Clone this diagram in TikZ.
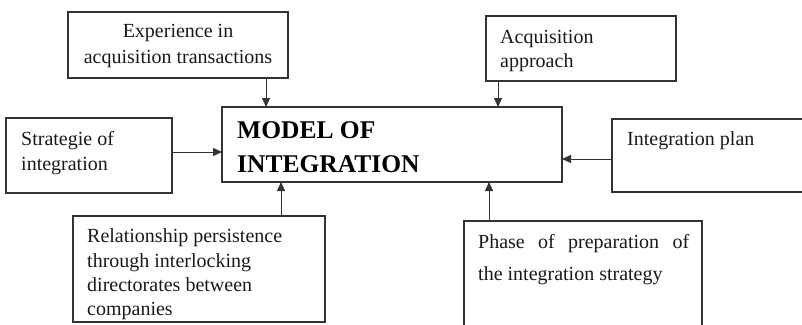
\documentclass[tikz,border=0pt]{standalone}
\usepackage{fontspec}
\setmainfont{Liberation Serif}
\usetikzlibrary{arrows.meta}
\begin{document}
\begin{tikzpicture}[x=1pt,y=-1pt,
  box/.style={draw=black!80,line width=1.2pt,fill=none},
  txt/.style={anchor=base west,inner sep=0pt,font=\fontsize{20}{26}\selectfont,text=black!90},
  ttl/.style={anchor=base west,inner sep=0pt,font=\fontsize{25.5}{30}\selectfont\bfseries,text=black},
  conn/.style={draw=black!80,line width=1pt,-{Triangle[length=9pt,width=8pt]}}]
\useasboundingbox (0,0) rectangle (802,324);
% boxes
\draw[box] (68,12) rectangle (288,78);
\coordinate (expS) at (266,78);
\draw[box] (486,16) rectangle (676,81);
\coordinate (acqS) at (498,81);
\draw[box] (222,107) rectangle (562,182);
\coordinate (mainT1) at (266,107);
\coordinate (mainT2) at (498,107);
\coordinate (mainL) at (222,152);
\coordinate (mainR) at (562,159);
\coordinate (mainB1) at (281,182);
\coordinate (mainB2) at (489,182);
\draw[box] (6,118) rectangle (172,193);
\coordinate (strR) at (172,152);
\draw[box] (805,119) -- (612,119) -- (612,192) -- (805,192);
\coordinate (intL) at (612,159);
\draw[box] (73,216) rectangle (325,322);
\coordinate (relT) at (281,216);
\draw[box] (464,326) -- (464,221) -- (702,221) -- (702,326);
\coordinate (phT) at (489,221);
% texts
\node[txt,anchor=base] (t1) at (178,37) {Experience in};
\node[txt,anchor=base] (t2) at (178,63) {acquisition transactions};
\node[txt] (t3) at (500,43) {Acquisition};
\node[txt] (t4) at (500,67) {approach};
\node[ttl] (t5) at (237,138) {MODEL OF};
\node[ttl] (t6) at (237,172) {INTEGRATION};
\node[txt] (t7) at (21,145) {Strategie of};
\node[txt] (t8) at (21,170) {integration};
\node[txt] (t9) at (627,145) {Integration plan};
\node[txt] (t10) at (87,242) {Relationship persistence};
\node[txt] (t11) at (87,267) {through interlocking};
\node[txt] (t12) at (87,291) {directorates between};
\node[txt] (t13) at (87,315) {companies};
\node[txt] (t14) at (478,248) {\makebox[211pt][s]{Phase of preparation of}};
\node[txt] (t15) at (478,280) {the integration strategy};
% connectors
\draw[conn] (expS) -- (mainT1);
\draw[conn] (acqS) -- (mainT2);
\draw[conn] (strR) -- (mainL);
\draw[conn] (intL) -- (mainR);
\draw[conn] (relT) -- (mainB1);
\draw[conn] (phT) -- (mainB2);
\end{tikzpicture}
\end{document}
